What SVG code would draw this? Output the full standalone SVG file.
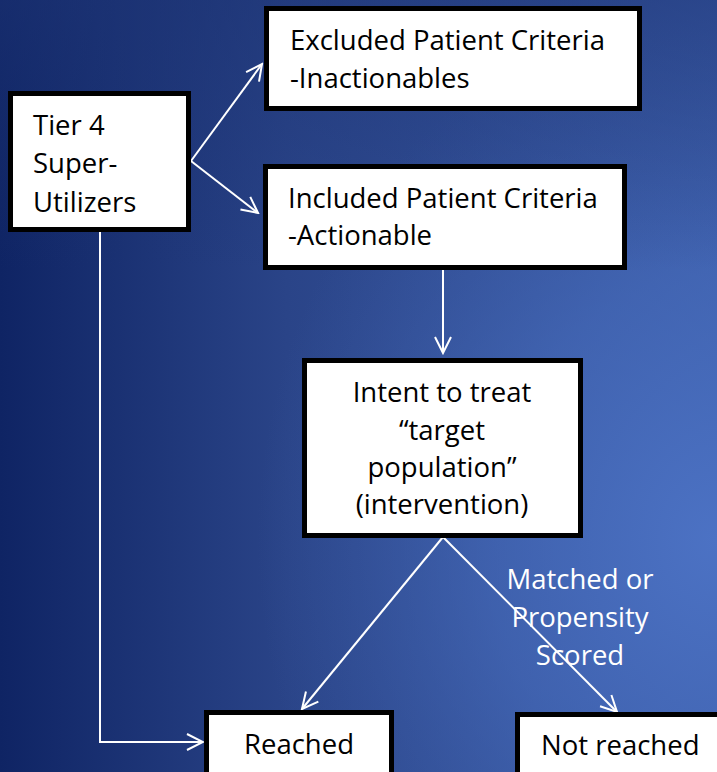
<svg xmlns="http://www.w3.org/2000/svg" width="717" height="772" viewBox="0 0 717 772">
  <defs>
    <linearGradient id="bg" x1="0" y1="0" x2="1" y2="0">
      <stop offset="0" stop-color="#0f2464"/>
      <stop offset="0.4" stop-color="#2a4488"/>
      <stop offset="1" stop-color="#3d5ea9"/>
    </linearGradient>
    <radialGradient id="glow" cx="717" cy="540" r="460" gradientUnits="userSpaceOnUse" gradientTransform="translate(717 540) scale(1 1.15) translate(-717 -540)">
      <stop offset="0" stop-color="#4c72c4" stop-opacity="1"/>
      <stop offset="0.5" stop-color="#466bbb" stop-opacity="0.6"/>
      <stop offset="1" stop-color="#3d5ea9" stop-opacity="0"/>
    </radialGradient>
    <linearGradient id="topdark" x1="0" y1="0" x2="0" y2="1">
      <stop offset="0" stop-color="#1c3374" stop-opacity="0.55"/>
      <stop offset="0.35" stop-color="#1c3374" stop-opacity="0"/>
    </linearGradient>
    <marker id="arrow" viewBox="0 0 20 20" refX="18" refY="10" markerWidth="20" markerHeight="20" markerUnits="userSpaceOnUse" orient="auto">
      <path d="M2,2 L18,10 L2,18" fill="none" stroke="#ffffff" stroke-width="2"/>
    </marker>
  </defs>
  <style>
    .box { fill: #ffffff; stroke: #000000; stroke-width: 5; }
    .t { font-family: "Open Sans", "Liberation Sans", sans-serif; font-size: 27.5px; fill: #000000; }
    .w { font-family: "Open Sans", "Liberation Sans", sans-serif; font-size: 27.5px; fill: #ffffff; text-anchor: middle; }
    .c { text-anchor: middle; }
    .conn { fill: none; stroke: #ffffff; stroke-width: 2; marker-end: url(#arrow); }
  </style>

  <rect x="0" y="0" width="717" height="772" fill="url(#bg)"/>
  <rect x="0" y="0" width="717" height="772" fill="url(#glow)"/>
  <rect x="0" y="0" width="717" height="772" fill="url(#topdark)"/>

  <g id="connectors">
    <line class="conn" x1="191" y1="161" x2="262" y2="64"/>
    <line class="conn" x1="191" y1="161" x2="258" y2="213"/>
    <line class="conn" x1="443" y1="270" x2="443" y2="353"/>
    <line class="conn" x1="443" y1="537" x2="302" y2="709"/>
    <line class="conn" x1="443" y1="537" x2="617" y2="712"/>
    <polyline class="conn" points="100,232 100,742 203,742"/>
  </g>

  <g id="label-matched">
    <text class="w" x="580" y="589">Matched or</text>
    <text class="w" x="580" y="627">Propensity</text>
    <text class="w" x="580" y="665">Scored</text>
  </g>

  <g id="tier4">
    <rect class="box" x="10.5" y="93.5" width="178" height="136"/>
    <text class="t" x="33" y="135">Tier 4</text>
    <text class="t" x="33" y="173">Super-</text>
    <text class="t" x="33" y="212">Utilizers</text>
  </g>

  <g id="excluded">
    <rect class="box" x="266.5" y="8.5" width="373" height="100"/>
    <text class="t" x="290" y="50">Excluded Patient Criteria</text>
    <text class="t" x="290" y="88">-Inactionables</text>
  </g>

  <g id="included">
    <rect class="box" x="265.5" y="166.5" width="359" height="101"/>
    <text class="t" x="288" y="208">Included Patient Criteria</text>
    <text class="t" x="288" y="245">-Actionable</text>
  </g>

  <g id="intent">
    <rect class="box" x="304.5" y="360.5" width="276" height="175"/>
    <text class="t c" x="442" y="402">Intent to treat</text>
    <text class="t c" x="442" y="440">“target</text>
    <text class="t c" x="442" y="477">population”</text>
    <text class="t c" x="442" y="514">(intervention)</text>
  </g>

  <g id="reached">
    <rect class="box" x="206.5" y="712.5" width="185" height="70"/>
    <text class="t c" x="299" y="754">Reached</text>
  </g>

  <g id="not-reached">
    <rect class="box" x="517.5" y="714.5" width="210" height="70"/>
    <text class="t" x="541" y="755">Not reached</text>
  </g>
</svg>
